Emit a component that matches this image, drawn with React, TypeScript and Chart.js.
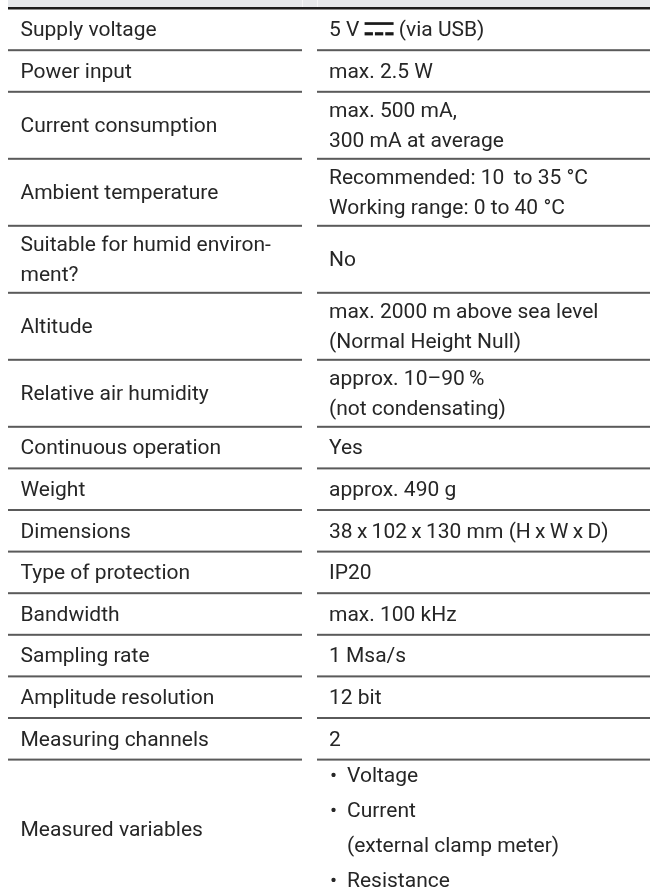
import React, { useEffect, useRef } from "react";
import { Chart, registerables } from "chart.js";

Chart.register(...registerables);

// ---- Data (table content) ----
const parameterLabels: string[][] = [
  ["Supply voltage"],
  ["Power input"],
  ["Current consumption"],
  ["Ambient temperature"],
  ["Suitable for humid environ-", "ment?"],
  ["Altitude"],
  ["Relative air humidity"],
  ["Continuous operation"],
  ["Weight"],
  ["Dimensions"],
  ["Type of protection"],
  ["Bandwidth"],
  ["Sampling rate"],
  ["Amplitude resolution"],
  ["Measuring channels"],
  ["Measured variables"],
];

const parameterValues: string[][] = [
  ["5 V {DC} (via USB)"],
  ["max. 2.5 W"],
  ["max. 500 mA,", "300 mA at average"],
  ["Recommended: 10\u2009 to 35 °C", "Working range: 0 to 40 °C"],
  ["No"],
  ["max. 2000 m above sea level", "(Normal Height Null)"],
  ["approx. 10–90\u2009%", "(not condensating)"],
  ["Yes"],
  ["approx. 490 g"],
  ["38\u2009x\u2009102\u2009x\u2009130 mm (H\u2009x\u2009W\u2009x\u2009D)"],
  ["IP20"],
  ["max. 100 kHz"],
  ["1 Msa/s"],
  ["12 bit"],
  ["2"],
  ["• Voltage", "• Current", "(external clamp meter)", "• Resistance"],
];

const listRows: boolean[] = parameterValues.map((v) => v.some((l) => l.startsWith("• ")));

// ---- Layout constants ----
const W = 650;
const H = 891;
const LEFT_PAD = 8;
const HEADER_BAND = 7;
const HEADER_RULE_END = 9.5;
const TABLE_TOP = 8.6;
const SINGLE_ROW = 41.6;
const LINE_H = 30;
const LIST_LINE_H = 35;
const MULTI_PAD = 7;
const COL1 = [0, 294];
const COL2 = [309, 642];
const COL1_TEXT = 12.5;
const COL2_TEXT = 321;
const LIST_INDENT = 18;
const FONT = "21px Roboto, 'Noto Sans', sans-serif";
const TEXT_COLOR = "#262626";
const RULE_COLOR = "#5a5a5a";

function rowHeight(i: number): number {
  const n = Math.max(parameterLabels[i].length, parameterValues[i].length);
  if (n === 1) return SINGLE_ROW;
  if (listRows[i]) return n * LIST_LINE_H;
  return n * LINE_H + MULTI_PAD;
}

const rowBounds: number[] = (() => {
  const b = [TABLE_TOP];
  for (let i = 0; i < parameterLabels.length; i++) b.push(b[i] + rowHeight(i));
  return b;
})();

const tablePlugin = {
  id: "specTable",
  afterDraw(chart: any) {
    const ctx = chart.ctx as CanvasRenderingContext2D;
    const xs = chart.scales.x;
    const ys = chart.scales.y;
    const px = (v: number) => xs.getPixelForValue(v);
    const py = (v: number) => ys.getPixelForValue(v);
    ctx.save();

    // header band + rule
    ctx.fillStyle = "#e6e8eb";
    ctx.fillRect(px(0), py(0), px(642) - px(0), py(HEADER_BAND) - py(0));
    ctx.fillStyle = "#f4f5f6";
    ctx.fillRect(px(COL1[1]), py(0), 1, py(HEADER_BAND) - py(0));
    ctx.fillRect(px(COL2[0]), py(0), 1, py(HEADER_BAND) - py(0));
    ctx.fillStyle = "#1c1c1c";
    ctx.fillRect(px(0), py(HEADER_BAND), px(642) - px(0), py(HEADER_RULE_END) - py(HEADER_BAND));

    ctx.font = FONT;
    ctx.textBaseline = "middle";
    ctx.textAlign = "left";

    for (let i = 0; i < parameterLabels.length; i++) {
      const top = rowBounds[i];
      const bottom = rowBounds[i + 1];
      const mid = (top + bottom) / 2;

      // separator
      ctx.fillStyle = RULE_COLOR;
      const yb = py(bottom);
      ctx.fillRect(px(COL1[0]), yb - 1, px(COL1[1]) - px(COL1[0]), 2);
      ctx.fillRect(px(COL2[0]), yb - 1, px(COL2[1]) - px(COL2[0]), 2);

      ctx.fillStyle = TEXT_COLOR;
      // label column
      const lab = parameterLabels[i];
      lab.forEach((line, k) => {
        const y = mid + (k - (lab.length - 1) / 2) * LINE_H + 1.5;
        ctx.fillText(line, px(COL1_TEXT), py(y));
      });

      // value column
      const val = parameterValues[i];
      const lh = listRows[i] ? LIST_LINE_H : LINE_H;
      val.forEach((line, k) => {
        const y = py(mid + (k - (val.length - 1) / 2) * lh + (listRows[i] ? 0 : 1.5));
        if (listRows[i]) {
          if (line.startsWith("• ")) {
            ctx.fillText("•", px(COL2_TEXT) + 1, y);
            ctx.fillText(line.slice(2), px(COL2_TEXT + LIST_INDENT), y);
          } else {
            ctx.fillText(line, px(COL2_TEXT + LIST_INDENT), y);
          }
        } else if (line.includes("{DC}")) {
          const [a, b] = line.split("{DC}");
          let x = px(COL2_TEXT);
          ctx.fillText(a, x, y);
          x += ctx.measureText(a).width;
          const base = y + 7.5;
          const sw = 29;
          ctx.fillStyle = "#1a1a1a";
          ctx.fillRect(x, base - 16.2, sw, 2.7);
          const dw = (sw - 4) / 3;
          for (let d = 0; d < 3; d++) {
            ctx.fillRect(x + d * (dw + 2), base - 6.2, dw, 3.2);
          }
          ctx.fillStyle = TEXT_COLOR;
          x += sw;
          ctx.fillText(b, x, y);
        } else {
          ctx.fillText(line, px(COL2_TEXT), y);
        }
      });
    }
    ctx.restore();
  },
};

export default function App() {
  const ref = useRef<HTMLCanvasElement | null>(null);

  useEffect(() => {
    document.body.style.margin = "0";
    let chart: Chart | null = null;
    let cancelled = false;
    const make = () => {
      if (cancelled || !ref.current) return;
      chart = new Chart(ref.current, {
        type: "scatter",
        data: {
          datasets: [
            {
              data: rowBounds.map((b) => ({ x: 0, y: b })),
              pointRadius: 0,
              showLine: false,
            },
          ],
        },
        options: {
          animation: false,
          responsive: false,
          devicePixelRatio: 1,
          layout: { padding: { left: LEFT_PAD, right: 0, top: 0, bottom: 0 } },
          plugins: { legend: { display: false }, tooltip: { enabled: false } },
          events: [],
          scales: {
            x: { type: "linear", display: false, min: 0, max: 642 },
            y: { type: "linear", display: false, min: 0, max: H, reverse: true },
          },
        },
        plugins: [tablePlugin],
      });
    };
    const fonts: any = (document as any).fonts;
    if (fonts && fonts.load) {
      fonts.load("21px Roboto").then(make, make);
    } else {
      make();
    }
    return () => {
      cancelled = true;
      if (chart) chart.destroy();
    };
  }, []);

  return (
    <div style={{ width: W, height: H, position: "relative" }}>
      <canvas ref={ref} width={W} height={H} style={{ display: "block" }} />
    </div>
  );
}
